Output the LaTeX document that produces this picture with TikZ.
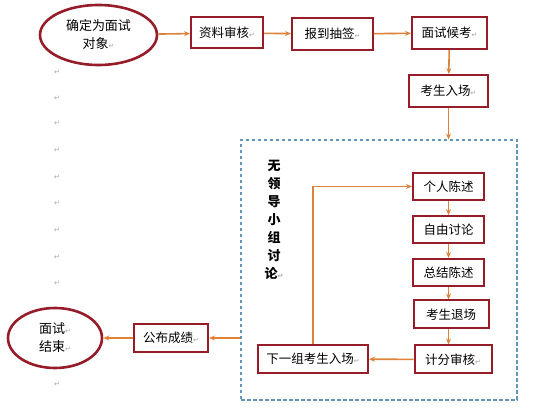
\documentclass[tikz,border=0pt]{standalone}
\usepackage{fontspec}
\usetikzlibrary{arrows.meta,shapes.geometric}
\newfontfamily\cjk{Noto Sans CJK SC}
\newfontfamily\symf{DejaVu Sans}
\definecolor{boxred}{RGB}{150,28,42}
\definecolor{flowor}{RGB}{222,130,58}
\definecolor{groupblue}{RGB}{95,150,185}
\newcommand\retmark{{\color{gray!70}\symf\fontsize{7}{7}\selectfont ↵}}

\begin{document}
\begin{tikzpicture}[x=1pt, y=-1pt,
        stepbox/.style = {draw=boxred, line width=2pt, fill=white, inner sep=0pt, minimum height=28, font=\cjk\fontsize{12.5}{14}\selectfont},
        endpoint/.style = {ellipse, draw=boxred, line width=2.6pt, fill=white, inner sep=0pt, align=center, font=\cjk\fontsize{13}{18}\selectfont},
        flow/.style = {draw=flowor, line width=1.6pt, -{Stealth[length=6pt,width=5pt]}},
        pmark/.style = {text=gray!70, font=\symf\fontsize{7}{7}\selectfont}]
        \useasboundingbox (0,0) rectangle (536,411);
        \foreach \y in {72,98,123,150,177,203,230,257,283,384} \node[pmark] at (57,\y) {↵};
        \node[draw=groupblue, dash pattern=on 3.5pt off 2.5pt, line width=1.1pt, minimum width=276, minimum height=260] (group) at (379,270) {};
        \node[endpoint, minimum width=117, minimum height=60] (obj) at (98.5,35) {确定为面试\\对象\retmark};
        \node[stepbox, minimum width=72, minimum height=31] (audit) at (227,33) {资料审核\retmark};
        \node[stepbox, minimum width=81, minimum height=32] (checkin) at (332.5,34) {报到抽签\retmark};
        \node[stepbox, minimum width=75, minimum height=32] (wait) at (449.5,33) {面试候考\retmark};
        \node[stepbox, minimum width=79, minimum height=32] (enter) at (448.5,91) {考生入场\retmark};
        \node[align=center, font=\cjk\bfseries\fontsize{13}{18}\selectfont] (title) at (274,220) {无\\领\\导\\小\\组\\讨\\论\retmark};
        \node[stepbox, minimum width=71, minimum height=27] (speech) at (448.5,186.5) {个人陈述};
        \node[stepbox, minimum width=71, minimum height=27] (discuss) at (448.5,229.5) {自由讨论};
        \node[stepbox, minimum width=71, minimum height=27] (summary) at (448.5,272.5) {总结陈述};
        \node[stepbox, minimum width=75] (leave) at (451,314.5) {考生退场};
        \node[stepbox, minimum width=77] (score) at (453,359.5) {计分审核\retmark};
        \node[stepbox, minimum width=110] (next) at (313,359) {下一组考生入场\retmark};
        \node[stepbox, minimum width=74] (publish) at (171,338) {公布成绩\retmark};
        \node[endpoint, minimum width=94, minimum height=60] (finish) at (55,338) {面试\retmark\\结束\retmark};
        \draw[flow] (obj) -- (audit);
        \draw[flow] (audit) -- (checkin);
        \draw[flow] (checkin) -- (wait);
        \draw[flow] (wait) -- (enter);
        \draw[flow] (enter) -- (enter.south |- group.north);
        \draw[flow] (speech) -- (discuss);
        \draw[flow] (discuss) -- (summary);
        \draw[flow] (summary) -- (leave.north -| summary);
        \draw[flow] (leave.south -| summary) -- (score.north -| summary);
        \draw[flow] (score) -- (next);
        \draw[flow] (next.north) |- (speech.west);
        \draw[flow] (publish.east -| group.west) -- (publish);
        \draw[flow] (publish) -- (finish);
    \end{tikzpicture}
\end{document}
